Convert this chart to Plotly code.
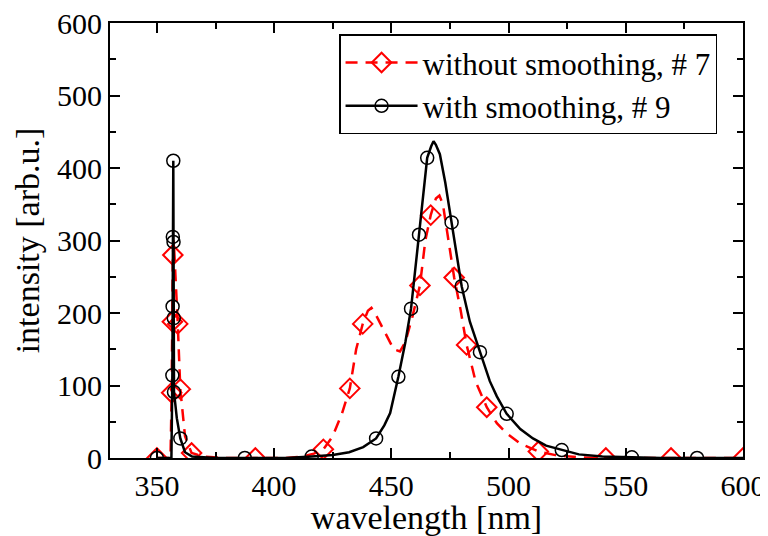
import plotly.graph_objects as go

# ---- data: without smoothing, # 7 (red dashed) ----
red_x = [350, 355.8, 356.3, 356.6, 356.8, 357.2, 358.2, 358.9, 360.0, 362, 364.8, 370, 380, 392, 405,
         412, 417, 421, 425, 429, 432.3, 435, 437.8, 440, 441.5, 443, 447, 451, 453.7, 456, 459,
         462.2, 464.5, 466.8, 469, 470.5, 472, 474, 476.8, 479.5, 482.1, 486, 490.7, 495, 499.2,
         505, 512.7, 520, 530, 541.5, 569.3, 600]
red_y = [0, 0, 90, 188, 280, 300, 240, 185, 95, 30, 7, 2, 0, 0, 0,
         2, 6, 12, 30, 62, 96, 150, 185, 203, 207, 200, 175, 150, 147, 160, 195,
         238, 300, 335, 358, 362, 350, 310, 249, 205, 156, 105, 70, 48, 34,
         20, 9, 4, 1, 0, 0, 0]
red_mx = [350, 356.3, 356.6, 356.8, 358.9, 360.0, 364.8, 392, 421, 432.3, 437.8, 462.2, 466.8,
          476.8, 482.1, 490.7, 512.7, 541.5, 569.3, 600]
red_my = [0, 90, 188, 280, 185, 95, 7, 0, 12, 96, 185, 238, 335,
          249, 156, 70, 9, 0, 0, 0]

# ---- data: with smoothing, # 9 (black solid) ----
blk_x = [350, 356.2, 356.6, 356.7, 356.8, 357.0, 357.1, 357.2, 357.3, 358.5, 360, 362, 365, 375,
         387.5, 405, 416, 425, 432, 438, 443.5, 447, 449.5, 453, 456, 458.4, 461.8, 463.5, 465.3,
         467, 468, 469, 470.7, 473, 475.7, 478, 480, 483.5, 487.8, 492, 495, 499.2, 505, 510.4,
         516, 522.7, 530, 540, 552.6, 565, 580.4, 600]
blk_y = [0, 0, 114, 209, 305, 410, 298, 193, 91, 55, 27, 8, 2, 0,
         0, 0, 2, 4, 8, 15, 27, 45, 62, 112, 160, 206, 308, 360, 414,
         430, 437, 432, 419, 380, 325, 280, 237, 188, 146, 106, 85, 61, 40, 27,
         17, 11, 5, 2, 1, 0, 0, 0]
blk_mx = [350, 356.6, 356.7, 356.8, 357.0, 357.1, 357.2, 357.3, 360, 387.5, 416, 443.5, 453,
          458.4, 461.8, 465.3, 475.7, 480, 487.8, 499.2, 522.7, 552.6, 580.4]
blk_my = [0, 114, 209, 305, 410, 298, 193, 91, 27, 0, 2, 27, 112,
          206, 308, 414, 325, 237, 146, 61, 11, 1, 0]

names = ["without smoothing, # 7", "with smoothing, # 9"]
x_ticks = [350, 400, 450, 500, 550, 600]
y_ticks = [0, 100, 200, 300, 400, 500, 600]

RED = "#ff0000"
BLK = "#000000"
FONT = "Liberation Serif, Times New Roman, serif"

red_line = dict(color=RED, width=2.5, dash="12px,8px")
red_mark = dict(symbol="diamond-open", size=15, color=RED, line=dict(width=2, color=RED))
blk_line = dict(color=BLK, width=2.5)
blk_mark = dict(symbol="circle-open", size=13, color=BLK, line=dict(width=1.5, color=BLK))

fig = go.Figure()
fig.add_trace(go.Scatter(x=red_x, y=red_y, mode="lines", line=red_line, showlegend=False))
fig.add_trace(go.Scatter(x=red_mx, y=red_my, mode="markers", marker=red_mark, showlegend=False))
fig.add_trace(go.Scatter(x=blk_x, y=blk_y, mode="lines", line=blk_line, showlegend=False))
fig.add_trace(go.Scatter(x=blk_mx, y=blk_my, mode="markers", marker=blk_mark, showlegend=False))
# legend entries
fig.add_trace(go.Scatter(x=[None], y=[None], mode="lines+markers", line=red_line,
                         marker=red_mark, name=names[0]))
fig.add_trace(go.Scatter(x=[None], y=[None], mode="lines+markers", line=blk_line,
                         marker=blk_mark, name=names[1]))

axis_common = dict(
    showgrid=False, zeroline=False, showline=True, linecolor="black", linewidth=2,
    mirror="allticks", ticks="inside", ticklen=10, tickwidth=1.5, tickcolor="black",
    tickfont=dict(family=FONT, size=30, color="black"), automargin=False,
    ticklabeloverflow="allow",
)

fig.update_xaxes(range=[330, 600], tickvals=x_ticks,
                 minor=dict(dtick=25, ticks="inside", ticklen=6, tickwidth=1.5, tickcolor="black"),
                 title=dict(text="wavelength [nm]", font=dict(family=FONT, size=34, color="black"),
                            standoff=0),
                 **axis_common)
fig.update_yaxes(range=[0, 600], tickvals=y_ticks,
                 minor=dict(dtick=50, ticks="inside", ticklen=6, tickwidth=1.5, tickcolor="black"),
                 title=dict(text="intensity [arb.u.]", font=dict(family=FONT, size=34, color="black"),
                            standoff=7),
                 **axis_common)

# the page body has an 8px margin, so the figure is 8px smaller and margins shifted
fig.update_layout(
    width=760, height=528,
    margin=dict(l=102, r=25, t=15, b=78),
    plot_bgcolor="white", paper_bgcolor="white",
    legend=dict(x=0.959, y=0.859, xanchor="right", yanchor="middle",
                bgcolor="white", bordercolor="black", borderwidth=1.5,
                font=dict(family=FONT, size=31, color="black"),
                itemwidth=72, tracegroupgap=0),
)

fig.write_html("out.html")
